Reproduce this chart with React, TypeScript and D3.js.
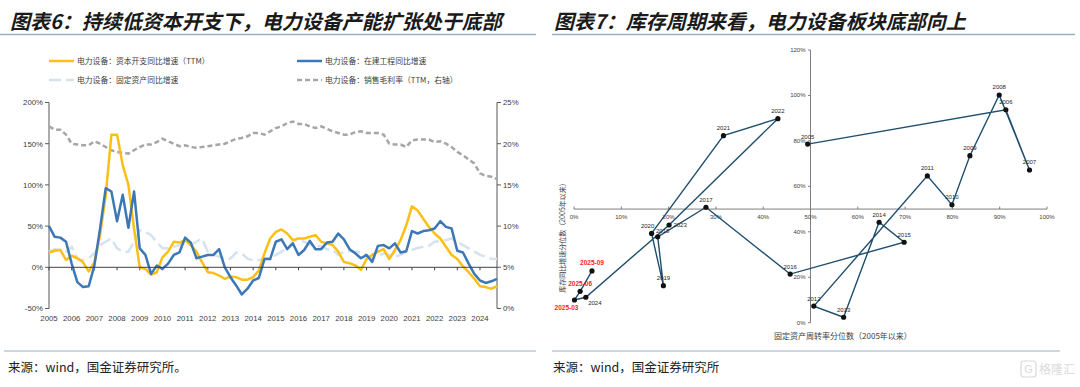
import React from "react";
import * as d3 from "d3";

// left chart: quarterly data 2005Q1 .. 2024Q4
const START_YEAR = 2005;
const yearTicks = d3.range(2005, 2025);
const leftTicks = [-50, 0, 50, 100, 150, 200];
const rightTicks = [0, 5, 10, 15, 20, 25];

// 电力设备：资本开支同比增速（TTM）, %
const capexYoY = [
  18, 20, 21, 9, 14, 11, 6, -5, 6, 39, 87, 161, 161, 124, 100, 47,
  0, -2, -9, -6, 12, 19, 31, 30, 33, 27, 19, 6, -6, -7, -10, -14,
  -11, -12, -15, -15, -12, -4, 17, 35, 43, 46, 41, 33, 35, 35, 37, 39,
  31, 29, 27, 19, 6.5, 5, 2.4, -3, 10, 15, 19, 22, 10, 21, 33, 51,
  74, 69, 59, 49, 41, 35, 25, 15, 10, 1, -6, -14, -23, -24, -26, -23,
];
// 电力设备：在建工程同比增速, %
const cipYoY = [
  50, 37, 36, 31, 4.5, -18, -24, -23, 2, 47, 96, 92, 56, 88, 48, 92,
  23, 15, -8, 2, -2, 4.5, 15, 18, 36, 30, 11, 13, 15, 15, 22, 0,
  -12, -22, -33, -26, -16, -13, 10, 10, 31, 34, 22, 29, 15, 21, 32, 22,
  22, 30, 31, 41, 34, 22, 17, 11, 15, 6.5, 26, 27, 23, 29, 18, 19.5,
  44, 41, 44, 45, 47, 56, 49, 47, 20, 18, 4.5, -8, -16, -19, -17, -14,
];
// 电力设备：固定资产同比增速, %
const fixedAssetYoY = [
  19, 22, 21, 19, 25, 10.5, 8.5, 11, 17, 27, 31, 35, 23, 19, 19, 31,
  45, 43, 39, 31, 23, 23, 25, 27, 29, 27, 31, 35, 19, 15, 13, 10.5,
  10.5, 18, 17, 10.5, 8.5, 8.5, 10.5, 11.4, 15, 19, 23, 31, 34, 31, 27, 27,
  25, 22, 21, 15, 19, 19.5, 19, 18, 15, 11, 13, 17, 15, 13, 15, 19,
  21, 23.5, 25, 26, 31, 32, 33, 35, 31, 27, 23, 19, 15, 13, 10.5, 10,
];
// 电力设备：销售毛利率（TTM，右轴）, %
const grossMargin = [
  22.1, 21.7, 21.7, 21.1, 20.0, 19.9, 19.8, 19.8, 20.3, 20.0, 19.6, 19.2, 19.0, 18.9, 18.8, 19.2,
  19.6, 19.9, 19.9, 20.2, 20.6, 20.3, 20.0, 19.7, 19.8, 19.6, 19.5, 19.6, 19.7, 19.8, 19.9, 20.0,
  20.3, 20.6, 20.7, 20.9, 21.3, 21.3, 21.1, 21.5, 21.9, 22.1, 22.5, 22.7, 22.4, 22.4, 22.1, 21.9,
  22.1, 21.8, 21.5, 21.3, 21.1, 21.1, 21.4, 21.5, 21.3, 21.3, 21.3, 21.1, 20.0, 19.9, 19.9, 19.6,
  20.4, 20.5, 20.5, 20.5, 20.2, 20.3, 20.0, 19.6, 19.0, 18.6, 18.1, 17.6, 16.4, 16.1, 16.0, 15.7,
];

// right chart: inventory cycle
const scatterLabels = [
  "2005", "2006", "2007", "2008", "2009", "2010", "2011", "2012", "2013", "2014", "2015",
  "2016", "2017", "2018", "2019", "2020", "2021", "2022", "2023", "2024",
  "2025-03", "2025-06", "2025-09",
];
const turnoverPct = [
  49.4, 91.3, 96.3, 89.9, 83.7, 79.9, 74.7, 50.7, 57.0, 64.5, 69.8,
  45.7, 27.9, 17.7, 18.9, 16.4, 31.6, 43.1, 20.1, 2.5, 0.1, 1.3, 3.8,
];
const inventoryPct = [
  78.6, 93.7, 67.2, 100.2, 73.5, 51.9, 64.6, 7.3, 2.4, 44.2, 35.4,
  21.4, 50.8, 37.8, 16.3, 39.3, 82.3, 89.8, 43.0, 11.2, 10.0, 13.8, 22.8,
];
const xTicksR = d3.range(0, 101, 10);
const yTicksR = d3.range(0, 121, 20);

const LATIN = "'Liberation Sans', Arial, sans-serif";
const CJK = "'Noto Sans CJK SC', sans-serif";

const LeftChart = () => {
  const x = d3.scaleLinear().domain([2005, 2024.75]).range([49, 497]);
  const yL = d3.scaleLinear().domain([-50, 200]).range([308.5, 102.5]);
  const yR = d3.scaleLinear().domain([0, 25]).range([308.5, 102.5]);
  const t = (i: number) => START_YEAR + i / 4;

  const lineL = d3
    .line<number>()
    .x((_, i) => x(t(i)))
    .y((d) => yL(d));
  const lineR = d3
    .line<number>()
    .x((_, i) => x(t(i)))
    .y((d) => yR(d));

  const legend = [
    { label: "电力设备：资本开支同比增速（TTM）", color: "#FBBF16", dash: "", lx: 49, ly: 61 },
    { label: "电力设备：在建工程同比增速", color: "#3D78B6", dash: "", lx: 297, ly: 61 },
    { label: "电力设备：固定资产同比增速", color: "#D5E2F0", dash: "12,5", lx: 49, ly: 80 },
    { label: "电力设备：销售毛利率（TTM，右轴）", color: "#A6A6A6", dash: "5,3", lx: 297, ly: 80 },
  ];

  return (
    <g>
      {legend.map((l) => (
        <g key={l.label}>
          <line x1={l.lx} x2={l.lx + 25} y1={l.ly} y2={l.ly} stroke={l.color} strokeWidth={2.5} strokeDasharray={l.dash} />
          <text x={l.lx + 28} y={l.ly + 2.8} fontSize={7.8} fontFamily={CJK} fill="#404040">
            {l.label}
          </text>
        </g>
      ))}

      {/* axes */}
      <line x1={49} x2={49} y1={yL(200)} y2={yL(-50)} stroke="#595959" />
      <line x1={497} x2={497} y1={yR(25)} y2={yR(0)} stroke="#595959" />
      {leftTicks.map((v) => (
        <g key={"l" + v}>
          <line x1={45} x2={49} y1={yL(v)} y2={yL(v)} stroke="#595959" />
          <text x={43} y={yL(v) + 2.8} textAnchor="end" fontSize={7.8} fontFamily={LATIN} fill="#404040">
            {v}%
          </text>
        </g>
      ))}
      {rightTicks.map((v) => (
        <g key={"r" + v}>
          <line x1={497} x2={501} y1={yR(v)} y2={yR(v)} stroke="#595959" />
          <text x={503} y={yR(v) + 2.8} fontSize={7.8} fontFamily={LATIN} fill="#404040">
            {v}%
          </text>
        </g>
      ))}
      {yearTicks.map((yr) => (
        <g key={yr}>
          <line x1={x(yr)} x2={x(yr)} y1={yL(0)} y2={yL(0) + 3} stroke="#404040" />
          <text x={x(yr)} y={321} textAnchor="middle" fontSize={7.8} fontFamily={LATIN} fill="#404040">
            {yr}
          </text>
        </g>
      ))}

      <path d={lineL(fixedAssetYoY) ?? ""} fill="none" stroke="#D5E2F0" strokeWidth={2.5} strokeDasharray="12,5" />
      <path d={lineR(grossMargin) ?? ""} fill="none" stroke="#A6A6A6" strokeWidth={2.5} strokeDasharray="5,3" />
      <path d={lineL(capexYoY) ?? ""} fill="none" stroke="#FBBF16" strokeWidth={2.5} strokeLinejoin="round" />
      <path d={lineL(cipYoY) ?? ""} fill="none" stroke="#3D78B6" strokeWidth={2.5} strokeLinejoin="round" />
      <line x1={49} x2={497} y1={yL(0)} y2={yL(0)} stroke="#404040" />
    </g>
  );
};

const RightChart = () => {
  const xs = d3.scaleLinear().domain([0, 100]).range([574, 1047]);
  const ys = d3.scaleLinear().domain([0, 120]).range([322.7, 50]);
  const pts = scatterLabels.map((label, i) => ({ label, x: turnoverPct[i], y: inventoryPct[i] }));
  const path = d3
    .line<{ x: number; y: number }>()
    .x((d) => xs(d.x))
    .y((d) => ys(d.y))(pts);
  const axisY = ys(50);
  const axisX = xs(50);

  // label placement: default above the point, a few nudged to stay readable
  const offset = (label: string) => {
    if (label === "2024") return { dx: 9, dy: 8 };
    if (label === "2025-03") return { dx: -8, dy: 10 };
    if (label === "2020") return { dx: -4, dy: -5.5 };
    if (label === "2018") return { dx: 5, dy: -4 };
    if (label === "2023") return { dx: 11, dy: 2 };
    return { dx: 0, dy: -5.5 };
  };

  return (
    <g>
      <line x1={xs(0)} x2={xs(100)} y1={axisY} y2={axisY} stroke="#7F7F7F" />
      <line x1={axisX} x2={axisX} y1={ys(120)} y2={ys(0)} stroke="#7F7F7F" />
      {xTicksR.map((v) => (
        <g key={"x" + v}>
          <line x1={xs(v)} x2={xs(v)} y1={axisY} y2={axisY - 2.5} stroke="#7F7F7F" />
          <text x={xs(v)} y={axisY + 10} textAnchor="middle" fontSize={6} fontFamily={LATIN} fill="#404040">
            {v}%
          </text>
        </g>
      ))}
      {yTicksR.map((v) => (
        <g key={"y" + v}>
          <line x1={axisX - 2.5} x2={axisX} y1={ys(v)} y2={ys(v)} stroke="#7F7F7F" />
          <text x={axisX - 5} y={ys(v) + 2} textAnchor="end" fontSize={6} fontFamily={LATIN} fill="#404040">
            {v}%
          </text>
        </g>
      ))}

      <path d={path ?? ""} fill="none" stroke="#1F4E6E" strokeWidth={1.4} />
      {pts.map((p) => {
        const o = offset(p.label);
        const red = p.label.startsWith("2025");
        return (
          <g key={p.label}>
            <circle cx={xs(p.x)} cy={ys(p.y)} r={2.6} fill="#111" />
            <text
              x={xs(p.x) + o.dx}
              y={ys(p.y) + o.dy}
              textAnchor="middle"
              fontSize={red ? 6.5 : 6}
              fontWeight={red ? "bold" : "normal"}
              fontFamily={LATIN}
              fill={red ? "#FF1A1A" : "#262626"}
            >
              {p.label}
            </text>
          </g>
        );
      })}

      <text
        transform={`translate(564.5,236) rotate(-90)`}
        textAnchor="middle"
        fontSize={7}
        fontFamily={CJK}
        fill="#404040"
      >
        库存同比增速分位数（2005年以来）
      </text>
      <text x={843} y={339} textAnchor="middle" fontSize={8} fontFamily={CJK} fill="#404040">
        固定资产周转率分位数（2005年以来）
      </text>
    </g>
  );
};

export default function App() {
  return (
    <svg
      width={1080}
      height={387}
      style={{ position: "absolute", left: 0, top: 0, background: "#fff" }}
    >
      <rect width={1080} height={387} fill="#fff" />
      <text x={10} y={29} fontSize={20} fontWeight="bold" fontStyle="italic" fontFamily={CJK} fill="#1a1a1a">
        图表6：持续低资本开支下，电力设备产能扩张处于底部
      </text>
      <text x={554} y={29} fontSize={20} fontWeight="bold" fontStyle="italic" fontFamily={CJK} fill="#1a1a1a">
        图表7：库存周期来看，电力设备板块底部向上
      </text>
      <line x1={0} x2={536} y1={34.5} y2={34.5} stroke="#9AB0C2" strokeWidth={1.5} />
      <line x1={552} x2={1075} y1={34.5} y2={34.5} stroke="#9AB0C2" strokeWidth={1.5} />

      <LeftChart />
      <RightChart />

      <line x1={4} x2={536} y1={351} y2={351} stroke="#9AB0C2" strokeWidth={1.2} />
      <line x1={552} x2={1060} y1={351} y2={351} stroke="#9AB0C2" strokeWidth={1.2} />
      <text x={8} y={372} fontSize={12.5} fontFamily={CJK} fill="#222">
        来源：wind，国金证券研究所。
      </text>
      <text x={553} y={372} fontSize={12.5} fontFamily={CJK} fill="#222">
        来源：wind，国金证券研究所
      </text>
      <g opacity={0.55}>
        <rect x={1021} y={361} width={15} height={16} rx={3} fill="none" stroke="#bdbdbd" strokeWidth={1.2} />
        <text x={1028.5} y={373} textAnchor="middle" fontSize={11} fontFamily={LATIN} fill="#bdbdbd">
          G
        </text>
        <text x={1039} y={374} fontSize={12} fontFamily={CJK} fill="#bdbdbd">
          格隆汇
        </text>
      </g>
    </svg>
  );
}
